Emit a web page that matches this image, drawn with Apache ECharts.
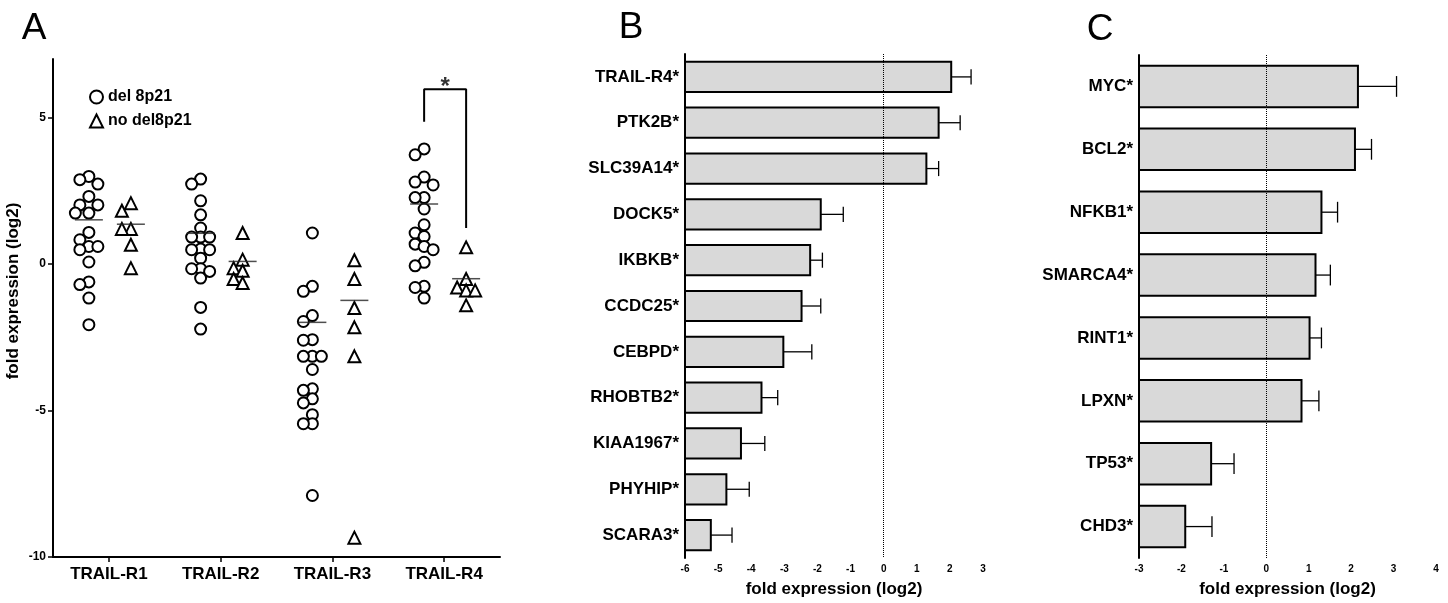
<!DOCTYPE html>
<html>
<head>
<meta charset="utf-8">
<title>fold expression</title>
<script src="https://cdn.jsdelivr.net/npm/echarts@6/dist/echarts.min.js"></script>
<style>
html, body { margin: 0; padding: 0; background: #fff; }
#main { width: 1448px; height: 603px; }
</style>
</head>
<body>
<div id="main"></div>
<script>
// panel A: individual samples (log2 fold expression)
var receptors = ['TRAIL-R1', 'TRAIL-R2', 'TRAIL-R3', 'TRAIL-R4'];
var r1Del = [2.99, 2.88, 2.73, 2.31, 2.02, 2.02, 1.74, 1.74, 1.08, 0.83, 0.60, 0.60, 0.49, 0.07, -0.61, -0.70, -1.16, -2.07];
var r1No = [2.08, 1.82, 1.20, 1.20, 0.66, -0.14];
var r2Del = [2.90, 2.73, 2.16, 1.68, 1.23, 0.92, 0.92, 0.92, 0.51, 0.49, 0.49, 0.20, -0.16, -0.16, -0.25, -0.48, -1.48, -2.22];
var r2No = [1.06, 0.15, -0.14, -0.23, -0.51, -0.65];
var r3Del = [1.06, -0.76, -0.93, -1.76, -1.96, -2.58, -2.60, -3.15, -3.15, -3.15, -3.60, -4.26, -4.31, -4.60, -4.74, -5.14, -5.45, -5.45, -7.90];
var r3No = [0.13, -0.51, -1.50, -2.16, -3.15, -9.34];
var r4Del = [3.93, 3.73, 2.97, 2.80, 2.70, 2.27, 2.27, 1.88, 1.34, 1.06, 0.94, 0.68, 0.60, 0.49, 0.06, -0.06, -0.76, -0.80, -1.16];
var r4No = [0.57, -0.51, -0.80, -0.90, -0.90, -1.41];
var delMean = [1.51, 1.05, -1.99, 2.05];
var noMean = [1.36, 0.09, -1.24, -0.50];
// significance bracket between R4 groups
var bracketTop = 5.97, bracketLeftEnd = 4.86, bracketRightEnd = 1.23;

// panel B
var bGenes = ['TRAIL-R4*', 'PTK2B*', 'SLC39A14*', 'DOCK5*', 'IKBKB*', 'CCDC25*', 'CEBPD*', 'RHOBTB2*', 'KIAA1967*', 'PHYHIP*', 'SCARA3*'];
var bMean = [2.04, 1.66, 1.29, -1.90, -2.22, -2.48, -3.03, -3.69, -4.31, -4.75, -5.22];
var bSem = [0.60, 0.65, 0.37, 0.68, 0.37, 0.58, 0.86, 0.49, 0.72, 0.69, 0.64];

// panel C
var cGenes = ['MYC*', 'BCL2*', 'NFKB1*', 'SMARCA4*', 'RINT1*', 'LPXN*', 'TP53*', 'CHD3*'];
var cMean = [2.16, 2.09, 1.30, 1.16, 1.02, 0.83, -1.30, -1.91];
var cSem = [0.91, 0.39, 0.38, 0.35, 0.28, 0.41, 0.54, 0.63];

var FONT = '"Liberation Sans", Arial, sans-serif';
var chart = echarts.init(document.getElementById('main'));

// grid A geometry (used for the dot spreading)
var gA = { left: 53, top: 59, width: 447, height: 498 };
var pxX = gA.width / 4, pxY = gA.height / 17;

// simple beeswarm so dots with close values sit side by side
function swarm(vals, center) {
  var placed = [];
  var steps = [0, -9, 9, -4.5, 4.5, -13.5, 13.5, -18, 18];
  vals.slice().sort(function (a, b) { return b - a; }).forEach(function (v) {
    for (var k = 0; k < steps.length; k++) {
      var ok = placed.every(function (p) {
        var dx = steps[k] - p.o, dy = (v - p.v) * pxY;
        return dx * dx + dy * dy >= 81;
      });
      if (ok || k === steps.length - 1) { placed.push({ v: v, o: steps[k] }); break; }
    }
  });
  return placed.map(function (p) { return [center + p.o / pxX, p.v]; });
}

var delGroups = [r1Del, r2Del, r3Del, r4Del];
var noGroups = [r1No, r2No, r3No, r4No];
var delShift = -20 / pxX, noShift = 22 / pxX;
var delPts = [], noPts = [], delMeanPts = [], noMeanPts = [];
receptors.forEach(function (r, i) {
  delPts = delPts.concat(swarm(delGroups[i], i + 1 + delShift));
  noPts = noPts.concat(swarm(noGroups[i], i + 1 + noShift));
  delMeanPts.push([i + 1 + delShift, delMean[i]]);
  noMeanPts.push([i + 1 + noShift, noMean[i]]);
});
var bracket = [
  [4 + delShift, bracketLeftEnd], [4 + delShift, bracketTop],
  [4 + noShift, bracketTop], [4 + noShift, bracketRightEnd]
];

function barSeries(axisIdx, mean, sem, xMin) {
  return {
    type: 'custom',
    xAxisIndex: axisIdx,
    yAxisIndex: axisIdx,
    encode: { x: 0, y: 1 },
    data: mean.map(function (m, i) { return [m, i, sem[i]]; }),
    renderItem: function (params, api) {
      var v = api.value(0), cat = api.value(1), s = api.value(2);
      var base = api.coord([xMin, cat]);
      var end = api.coord([v, cat]);
      var errEnd = api.coord([v + s, cat]);
      var band = api.size([0, 1])[1];
      var h = band * 0.66;
      return {
        type: 'group',
        children: [
          { type: 'line', shape: { x1: end[0], y1: end[1], x2: errEnd[0], y2: end[1] },
            style: { stroke: '#000', lineWidth: 1.3 } },
          { type: 'line', shape: { x1: errEnd[0], y1: end[1] - h * 0.25, x2: errEnd[0], y2: end[1] + h * 0.25 },
            style: { stroke: '#000', lineWidth: 1.3 } },
          { type: 'rect', shape: { x: base[0], y: end[1] - h / 2, width: end[0] - base[0], height: h },
            style: { fill: '#d9d9d9', stroke: '#000', lineWidth: 2 } }
        ]
      };
    },
    z: 3
  };
}

// dotted reference line at zero, kept behind the bars
function zeroLine(axisIdx) {
  return {
    type: 'line',
    xAxisIndex: axisIdx,
    yAxisIndex: axisIdx,
    data: [],
    z: 1,
    markLine: {
      silent: true,
      symbol: 'none',
      label: { show: false },
      lineStyle: { type: 'dotted', color: '#000', width: 1 },
      data: [{ xAxis: 0 }]
    }
  };
}

var axisLine = { onZero: false, lineStyle: { color: '#000', width: 2 } };
var axisTick = { length: 5, lineStyle: { color: '#000', width: 1.5 } };
var tickLabel = { fontFamily: FONT, fontWeight: 'bold', color: '#000' };

var option = {
  animation: false,
  textStyle: { fontFamily: FONT },
  grid: [
    { left: gA.left, top: gA.top, width: gA.width, height: gA.height },
    { left: 685, top: 54, width: 298, height: 507 },
    { left: 1139, top: 55, width: 297, height: 506 }
  ],
  legend: {
    data: ['del 8p21', 'no del8p21'],
    orient: 'vertical',
    left: 84,
    top: 84,
    itemGap: 8,
    itemWidth: 13,
    itemHeight: 13,
    textStyle: { fontFamily: FONT, fontWeight: 'bold', fontSize: 16, color: '#000' },
    selectedMode: false
  },
  xAxis: [
    {
      gridIndex: 0, type: 'value', min: 0.5, max: 4.5,
      axisLine: axisLine, splitLine: { show: false },
      axisTick: { length: 5, lineStyle: { color: '#000', width: 1.5 }, customValues: [1, 2, 3, 4] },
      axisLabel: Object.assign({
        customValues: [1, 2, 3, 4], margin: 9, fontSize: 17,
        formatter: function (v) { return receptors[Math.round(v) - 1]; }
      }, tickLabel)
    },
    {
      gridIndex: 1, type: 'value', min: -6, max: 3, interval: 1,
      axisLine: axisLine, axisTick: axisTick, splitLine: { show: false },
      axisLabel: Object.assign({ fontSize: 10, margin: 6 }, tickLabel),
      name: 'fold expression (log2)', nameLocation: 'middle', nameGap: 23,
      nameTextStyle: { fontFamily: FONT, fontWeight: 'bold', fontSize: 17, color: '#000' }
    },
    {
      gridIndex: 2, type: 'value', min: -3, max: 4, interval: 1,
      axisLine: axisLine, axisTick: axisTick, splitLine: { show: false },
      axisLabel: Object.assign({ fontSize: 10, margin: 6 }, tickLabel),
      name: 'fold expression (log2)', nameLocation: 'middle', nameGap: 23,
      nameTextStyle: { fontFamily: FONT, fontWeight: 'bold', fontSize: 17, color: '#000' }
    }
  ],
  yAxis: [
    {
      gridIndex: 0, type: 'value', min: -10, max: 7,
      axisLine: axisLine, splitLine: { show: false },
      axisTick: { length: 5, lineStyle: { color: '#000', width: 1.5 }, customValues: [-10, -5, 0, 5] },
      axisLabel: Object.assign({ customValues: [-10, -5, 0, 5], margin: 7, fontSize: 12 }, tickLabel)
    },
    {
      gridIndex: 1, type: 'category', data: bGenes, inverse: true,
      axisLine: axisLine, axisTick: { alignWithLabel: true, length: 5, lineStyle: { color: '#000', width: 1.5 } },
      axisLabel: Object.assign({ margin: 6, fontSize: 17 }, tickLabel)
    },
    {
      gridIndex: 2, type: 'category', data: cGenes, inverse: true,
      axisLine: axisLine, axisTick: { alignWithLabel: true, length: 5, lineStyle: { color: '#000', width: 1.5 } },
      axisLabel: Object.assign({ margin: 6, fontSize: 17 }, tickLabel)
    }
  ],
  graphic: [
    { type: 'text', x: 34, y: 29, style: { text: 'A', fontFamily: FONT, fontSize: 37, fill: '#000', textAlign: 'center', textVerticalAlign: 'middle' } },
    { type: 'text', x: 631, y: 28, style: { text: 'B', fontFamily: FONT, fontSize: 37, fill: '#000', textAlign: 'center', textVerticalAlign: 'middle' } },
    { type: 'text', x: 1100, y: 30, style: { text: 'C', fontFamily: FONT, fontSize: 37, fill: '#000', textAlign: 'center', textVerticalAlign: 'middle' } },
    { type: 'text', x: 13, y: 291, rotation: Math.PI / 2,
      style: { text: 'fold expression (log2)', fontFamily: FONT, fontWeight: 'bold', fontSize: 17, fill: '#000', textAlign: 'center', textVerticalAlign: 'middle' } }
  ],
  series: [
    {
      name: 'del 8p21', type: 'scatter', xAxisIndex: 0, yAxisIndex: 0,
      symbol: 'circle', symbolSize: 11,
      itemStyle: { color: '#fff', borderColor: '#000', borderWidth: 2, opacity: 1 },
      data: delPts, z: 4
    },
    {
      name: 'no del8p21', type: 'scatter', xAxisIndex: 0, yAxisIndex: 0,
      symbol: 'triangle', symbolSize: 12,
      itemStyle: { color: '#fff', borderColor: '#000', borderWidth: 2, opacity: 1 },
      data: noPts, z: 4
    },
    {
      type: 'scatter', xAxisIndex: 0, yAxisIndex: 0, silent: true,
      symbol: 'rect', symbolSize: [28, 1.5],
      itemStyle: { color: '#222' },
      data: delMeanPts.concat(noMeanPts), z: 5
    },
    {
      type: 'line', xAxisIndex: 0, yAxisIndex: 0, silent: true,
      symbol: 'none', lineStyle: { color: '#000', width: 2 },
      data: bracket, z: 5
    },
    {
      type: 'scatter', xAxisIndex: 0, yAxisIndex: 0, silent: true,
      symbolSize: 0,
      label: { show: true, position: 'inside', formatter: '*', fontFamily: FONT, fontWeight: 'bold', fontSize: 24, color: '#000' },
      data: [[4 + (delShift + noShift) / 2, bracketTop + 0.05]]
    },
    zeroLine(1),
    zeroLine(2),
    barSeries(1, bMean, bSem, -6),
    barSeries(2, cMean, cSem, -3)
  ]
};

chart.setOption(option);
</script>
</body>
</html>
